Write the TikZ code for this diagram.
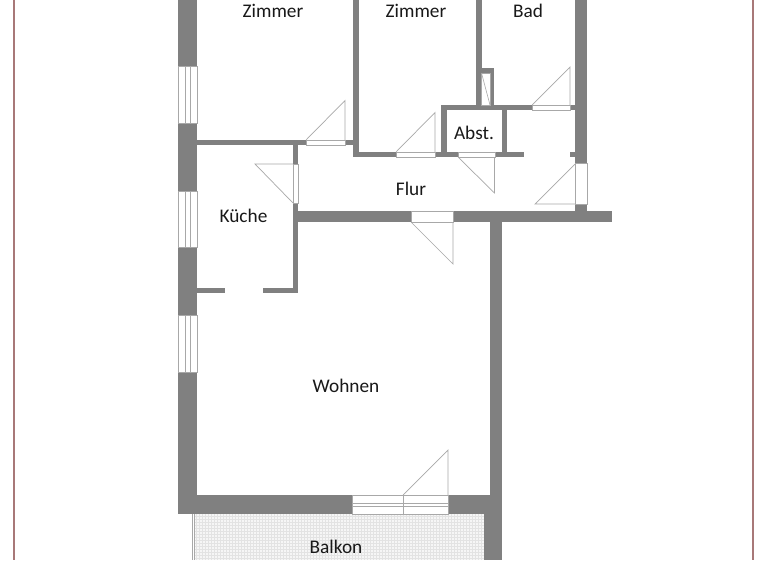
\documentclass[tikz,border=0pt]{standalone}
\usepackage{fontspec}
\setmainfont{Carlito}
\definecolor{wallc}{HTML}{808080}
\definecolor{thin}{HTML}{A8A8A8}
\definecolor{frame}{HTML}{A87878}
\definecolor{balc}{HTML}{F6F6F6}
\tikzset{
  wall/.style={fill=wallc,draw=none},
  opening/.style={fill=white,draw=thin,line width=0.6pt},
  swing/.style={draw=thin,line width=0.7pt,line join=miter},
  sash/.style={draw=thin,line width=0.6pt},
  room/.style={font=\fontsize{19.3}{22}\selectfont,text=black!90,inner sep=0pt,anchor=center},
  border/.style={draw=frame,line width=1.6pt},
  gridline/.style={draw=white!89!black,line width=0.25pt}
}
\begin{document}
\begin{tikzpicture}[x=1pt,y=-1pt]
\useasboundingbox (0,0) rectangle (768,560);
\fill[white] (0,0) rectangle (768,560);
% outer frame lines
\draw[border] (14,0) -- (14,560);
\draw[border] (753,0) -- (753,560);
% balcony
\fill[balc] (194,514) rectangle (484,560);
\foreach \x in {196,199,...,484} \draw[gridline] (\x,514) -- (\x,560);
\foreach \y in {516,519,...,560} \draw[gridline] (194,\y) -- (484,\y);
\draw[sash] (192,514) -- (192,560);
\draw[sash] (194.5,514) -- (194.5,560);
% walls
\fill[wall] (178,0) rectangle (197,514);
\fill[wall] (178,495) rectangle (352,514);
\fill[wall] (448,495) rectangle (502,514);
\fill[wall] (490,222) rectangle (502,495);
\fill[wall] (484,514) rectangle (502,560);
\fill[wall] (197,140) rectangle (306,145);
\fill[wall] (345,140) rectangle (354,145);
\fill[wall] (353,0) rectangle (359,157);
\fill[wall] (353,152) rectangle (396,157);
\fill[wall] (435,152) rectangle (458,157);
\fill[wall] (495,152) rectangle (524,157);
\fill[wall] (441,105) rectangle (447,152);
\fill[wall] (441,105) rectangle (532,110);
\fill[wall] (570,105) rectangle (575,110);
\fill[wall] (501.5,110) rectangle (507,152);
\fill[wall] (476,0) rectangle (481.5,105);
\fill[wall] (481,68) rectangle (494,73);
\fill[wall] (490,68) rectangle (494,105);
\fill[wall] (575,0) rectangle (587,163);
\fill[wall] (570,152) rectangle (575,157);
\fill[wall] (575,204) rectangle (587,211);
\fill[wall] (298,211) rectangle (411,222);
\fill[wall] (453,211) rectangle (612,222);
\fill[wall] (293,145) rectangle (298,164);
\fill[wall] (293,203) rectangle (298,293);
\fill[wall] (197,288) rectangle (225,293);
\fill[wall] (263,288) rectangle (298,293);
% windows
\foreach \a/\b in {66/123,191/247,315/372}{
  \draw[opening] (178,\a) rectangle (197,\b);
  \draw[sash] (185,\a) -- (185,\b);
  \draw[sash] (190,\a) -- (190,\b);
}
% shaft
\draw[sash] (481.5,73) rectangle (490,105);
\draw[sash] (481.5,73) -- (490,105);
% doors
\draw[opening] (306,140) rectangle (345,145);
\draw[swing] (306,140) -- (345,100.5) -- (345,140);
\draw[opening] (293,164) rectangle (298,203);
\draw[swing] (293,164) -- (255,164) -- (293,203);
\draw[opening] (396,152) rectangle (435,157);
\draw[swing] (396,152) -- (435,112.5) -- (435,152);
\draw[opening] (458,152) rectangle (495,157);
\draw[swing] (458,157) -- (494.5,193) -- (494.5,157);
\draw[opening] (532,105) rectangle (570,110);
\draw[swing] (532,105) -- (570,67) -- (570,105);
\draw[opening] (575,163) rectangle (587,204);
\draw[swing] (575,164) -- (535,204) -- (575,204);
\draw[opening] (411,211) rectangle (453,222);
\draw[swing] (411,222) -- (453,264) -- (453,222);
\draw[opening] (352,495) rectangle (448,514);
\draw[sash] (352,503) -- (448,503);
\draw[sash] (352,506.5) -- (448,506.5);
\draw[sash] (403,495) -- (403,514);
\draw[swing] (403,495) -- (448,450) -- (448,495);
% labels
\node[room] (zimmerA) at (273,11) {Zimmer};
\node[room] (zimmerB) at (416,11) {Zimmer};
\node[room] (bad) at (528,10.5) {Bad};
\node[room] (abst) at (474,132.5) {Abst.};
\node[room] (flur) at (411,188.5) {Flur};
\node[room] (kueche) at (243.5,215.5) {Küche};
\node[room] (wohnen) at (346,385.8) {Wohnen};
\node[room] (balkon) at (336,546.5) {Balkon};
\end{tikzpicture}
\end{document}
